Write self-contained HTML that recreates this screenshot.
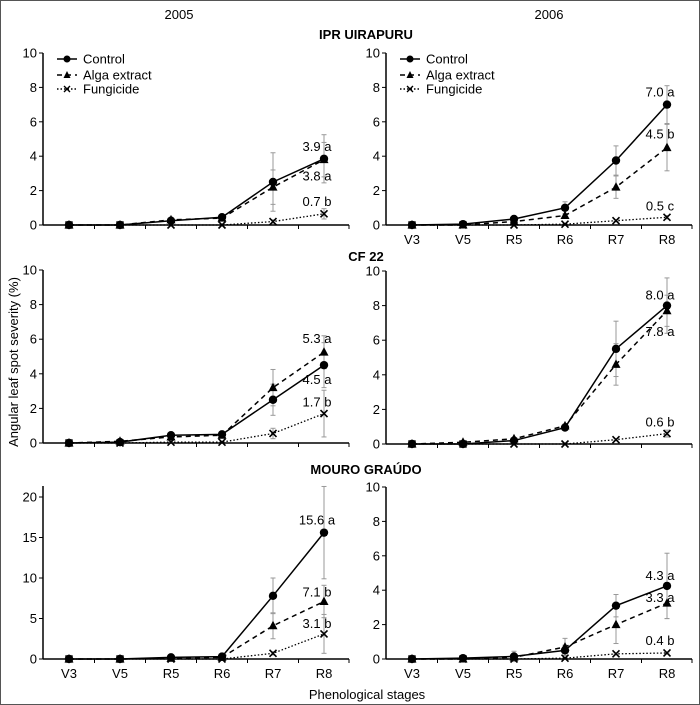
<!DOCTYPE html>
<html><head><meta charset="utf-8"><style>
body{margin:0;background:#fff}
svg{display:block;font-family:"Liberation Sans",sans-serif}
</style></head><body>
<svg id="fig" width="700" height="705" viewBox="0 0 700 705">
<rect x="0.5" y="0.5" width="699" height="704" fill="#fff" stroke="#555"/>
<text x="179" y="19" font-size="13" text-anchor="middle">2005</text>
<text x="549" y="19" font-size="13" text-anchor="middle">2006</text>
<text x="366" y="39" font-size="13" font-weight="bold" text-anchor="middle">IPR UIRAPURU</text>
<text x="366" y="261" font-size="13" font-weight="bold" text-anchor="middle">CF 22</text>
<text x="366" y="474" font-size="13" font-weight="bold" text-anchor="middle">MOURO GRAÚDO</text>
<text x="367" y="699" font-size="13" text-anchor="middle">Phenological stages</text>
<text transform="translate(18,362) rotate(-90)" font-size="13" text-anchor="middle">Angular leaf spot severity (%)</text>
<g id="plots"></g>
</svg>
<script>
const categories = ["V3","V5","R5","R6","R7","R8"];
// IPR Uirapuru 2005
const c05a = [0,0,0.25,0.45,2.5,3.85], a05a = [0,0,0.3,0.4,2.2,3.8], f05a = [0,0,0,0,0.2,0.65];
const ec05a = [0,0,0,0,1.7,1.4], ea05a = [0,0,0,0,1.0,1.0], ef05a = [0,0,0,0,0.1,0.3];
// IPR Uirapuru 2006
const c06a = [0,0.05,0.35,1.0,3.75,7.0], a06a = [0,0,0.2,0.55,2.2,4.5], f06a = [0,0,0,0.05,0.25,0.45];
const ec06a = [0,0,0.1,0.35,0.85,1.1], ea06a = [0,0,0,0.1,0.65,1.35], ef06a = [0,0,0,0,0.05,0.1];
// CF 22 2005
const c05b = [0,0.05,0.45,0.5,2.5,4.5], a05b = [0,0.1,0.35,0.45,3.2,5.25], f05b = [0,0,0.05,0.05,0.55,1.7];
const ec05b = [0,0,0,0,0.9,1.3], ea05b = [0,0,0,0,1.05,0.95], ef05b = [0,0,0,0,0.3,1.35];
// CF 22 2006
const c06b = [0,0,0.2,0.95,5.5,8.0], a06b = [0,0.1,0.3,1.05,4.6,7.7], f06b = [0,0,0,0,0.25,0.6];
const ec06b = [0,0,0,0.1,1.6,1.6], ea06b = [0,0,0,0.1,1.2,0.9], ef06b = [0,0,0,0,0.05,0.2];
// Mouro Graudo 2005
const c05c = [0,0,0.2,0.3,7.8,15.6], a05c = [0,0,0.1,0.2,4.1,7.1], f05c = [0,0,0,0,0.7,3.1];
const ec05c = [0,0,0,0,2.2,5.7], ea05c = [0,0,0,0,1.6,2.0], ef05c = [0,0,0,0,0.2,2.4];
// Mouro Graudo 2006
const c06c = [0,0.05,0.15,0.5,3.1,4.25], a06c = [0,0,0.1,0.7,2.0,3.25], f06c = [0,0,0,0.05,0.3,0.35];
const ec06c = [0,0,0.3,0.3,0.65,1.9], ea06c = [0,0,0,0.5,1.1,0.9], ef06c = [0,0,0,0,0.05,0.05];
// end labels
const lab05a = ["3.9 a","3.8 a","0.7 b"], lab06a = ["7.0 a","4.5 b","0.5 c"];
const lab05b = ["4.5 a","5.3 a","1.7 b"], lab06b = ["8.0 a","7.8 a","0.6 b"];
const lab05c = ["15.6 a","7.1 b","3.1 b"], lab06c = ["4.3 a","3.3 a","0.4 b"];
const yTicks10 = [0,2,4,6,8,10], yTicks20 = [0,5,10,15,20];

const NS = "http://www.w3.org/2000/svg";
const root = document.getElementById("plots");
function mk(tag, attrs, parent){
  const e = document.createElementNS(NS, tag);
  for (const k in attrs) e.setAttribute(k, attrs[k]);
  (parent||root).appendChild(e);
  return e;
}
function panel(o){
  const g = mk("g", {});
  
  
  const ax = o.ax, x0 = o.ax + 26, step = 51, end = o.ax + 306;
  const yS = v => o.bottom - v * (o.bottom - o.topPx) / o.topVal;
  const xS = i => x0 + i * step;
  const yAxis = mk("line", {x1:ax, y1:o.axTop, x2:ax, y2:o.bottom, stroke:"#000", "stroke-width":1.5}, g);
  
  
  const xAxis = mk("line", {x1:ax, y1:o.bottom, x2:end, y2:o.bottom, stroke:"#000", "stroke-width":1.5}, g);
  
  
  o.ticks.forEach(t => {
    const y = yS(t);
    mk("line", {x1:ax-4, y1:y, x2:ax, y2:y, stroke:"#000"}, g);
    const tl = mk("text", {x:ax-6, y:y+4.5, "font-size":13, "text-anchor":"end"}, g);
    tl.textContent = t;
    
    
  });
  for (let i = 0; i <= 6; i++) {
    const x = x0 + (i - 0.5) * step;
    if (i === 0) continue;
    mk("line", {x1:Math.min(x,end), y1:o.bottom, x2:Math.min(x,end), y2:o.bottom+4, stroke:"#000"}, g);
  }
  if (o.xlabels) categories.forEach((c, i) => {
    const tl = mk("text", {x:xS(i), y:o.bottom+19, "font-size":13, "text-anchor":"middle"}, g);
    tl.textContent = c;
    
    
  });
  const series = [
    {v:o.c, e:o.ec, dash:"", w:1.5, m:"circle", n:"control"},
    {v:o.a, e:o.ea, dash:"5,4", w:1.5, m:"tri", n:"alga-extract"},
    {v:o.f, e:o.ef, dash:"1.5,2", w:1.3, m:"x", n:"fungicide"}
  ];
  series.forEach(s => s.v.forEach((v, i) => {
    if (!s.e[i]) return;
    const x = xS(i), y1 = yS(v - s.e[i]), y2 = yS(v + s.e[i]);
    mk("line", {x1:x, y1:y1, x2:x, y2:y2, stroke:"#999", "stroke-width":1}, g);
    mk("line", {x1:x-2.5, y1:y1, x2:x+2.5, y2:y1, stroke:"#999"}, g);
    mk("line", {x1:x-2.5, y1:y2, x2:x+2.5, y2:y2, stroke:"#999"}, g);
  }));
  series.slice().reverse().forEach(s => {
    const pts = s.v.map((v, i) => xS(i) + "," + yS(v)).join(" ");
    const pl = mk("polyline", {points:pts, fill:"none", stroke:"#000", "stroke-width":s.w, "stroke-dasharray":s.dash}, g);
    
    
    s.v.forEach((v, i) => {
      const x = xS(i), y = yS(v);
      let m;
      if (s.m === "circle") m = mk("circle", {cx:x, cy:y, r:4.2, fill:"#000"}, g);
      else if (s.m === "tri") m = mk("polygon", {points:`${x},${y-5} ${x-4.5},${y+3.5} ${x+4.5},${y+3.5}`, fill:"#000"}, g);
      else m = mk("path", {d:`M${x-3.5},${y-3.5}L${x+3.5},${y+3.5}M${x-3.5},${y+3.5}L${x+3.5},${y-3.5}`, stroke:"#000", "stroke-width":1.6}, g);
      
      
    });
  });
  o.labels.forEach((t, k) => {
    const s = series[k];
    const tl = mk("text", {x:xS(5) - 7, y:yS(s.v[5]) + o.dys[k], "font-size":13, "text-anchor":"middle"}, g);
    tl.textContent = t;
    
    
  });
  if (o.legend) {
    const lx = ax + 14;
    const items = [["Control","",59,"circle"],["Alga extract","5,4",75,"tri"],["Fungicide","1.5,2",89,"x"]];
    items.forEach(it => {
      const lg = mk("g", {}, g);
      
      
      const y = it[2];
      mk("line", {x1:lx, y1:y, x2:lx+20, y2:y, stroke:"#000", "stroke-width":1.4, "stroke-dasharray":it[1]}, lg);
      const x = lx + 10;
      if (it[3] === "circle") mk("circle", {cx:x, cy:y, r:3.5, fill:"#000"}, lg);
      else if (it[3] === "tri") mk("polygon", {points:`${x},${y-4} ${x-3.5},${y+3} ${x+3.5},${y+3}`, fill:"#000"}, lg);
      else mk("path", {d:`M${x-3},${y-3}L${x+3},${y+3}M${x-3},${y+3}L${x+3},${y-3}`, stroke:"#000", "stroke-width":1.4}, lg);
      const tt = mk("text", {x:lx+26, y:y+4.5, "font-size":13}, lg);
      tt.textContent = it[0];
    });
  }
}
const L = 43, R = 386;
panel({name:"panel-ipr-2005", ax:L, axTop:53, topPx:53, topVal:10, bottom:225, ticks:yTicks10, c:c05a, a:a05a, f:f05a, ec:ec05a, ea:ea05a, ef:ef05a, labels:lab05a, dys:[-8,21,-8], legend:true, xlabels:false});
panel({name:"panel-ipr-2006", ax:R, axTop:53, topPx:53, topVal:10, bottom:225, ticks:yTicks10, c:c06a, a:a06a, f:f06a, ec:ec06a, ea:ea06a, ef:ef06a, labels:lab06a, dys:[-8,-9,-7], legend:true, xlabels:true});
panel({name:"panel-cf22-2005", ax:L, axTop:270, topPx:270, topVal:10, bottom:443, ticks:yTicks10, c:c05b, a:a05b, f:f05b, ec:ec05b, ea:ea05b, ef:ef05b, labels:lab05b, dys:[19,-9,-7], legend:false, xlabels:false});
panel({name:"panel-cf22-2006", ax:R, axTop:271, topPx:271, topVal:10, bottom:444, ticks:yTicks10, c:c06b, a:a06b, f:f06b, ec:ec06b, ea:ea06b, ef:ef06b, labels:lab06b, dys:[-6,25,-7], legend:false, xlabels:false});
panel({name:"panel-mouro-2005", ax:L, axTop:486, topPx:497, topVal:20, bottom:659, ticks:yTicks20, c:c05c, a:a05c, f:f05c, ec:ec05c, ea:ea05c, ef:ef05c, labels:lab05c, dys:[-8,-5,-6], legend:false, xlabels:true});
panel({name:"panel-mouro-2006", ax:R, axTop:487, topPx:487, topVal:10, bottom:659, ticks:yTicks10, c:c06c, a:a06c, f:f06c, ec:ec06c, ea:ea06c, ef:ef06c, labels:lab06c, dys:[-6,-1,-8], legend:false, xlabels:true});
</script>
</body></html>
